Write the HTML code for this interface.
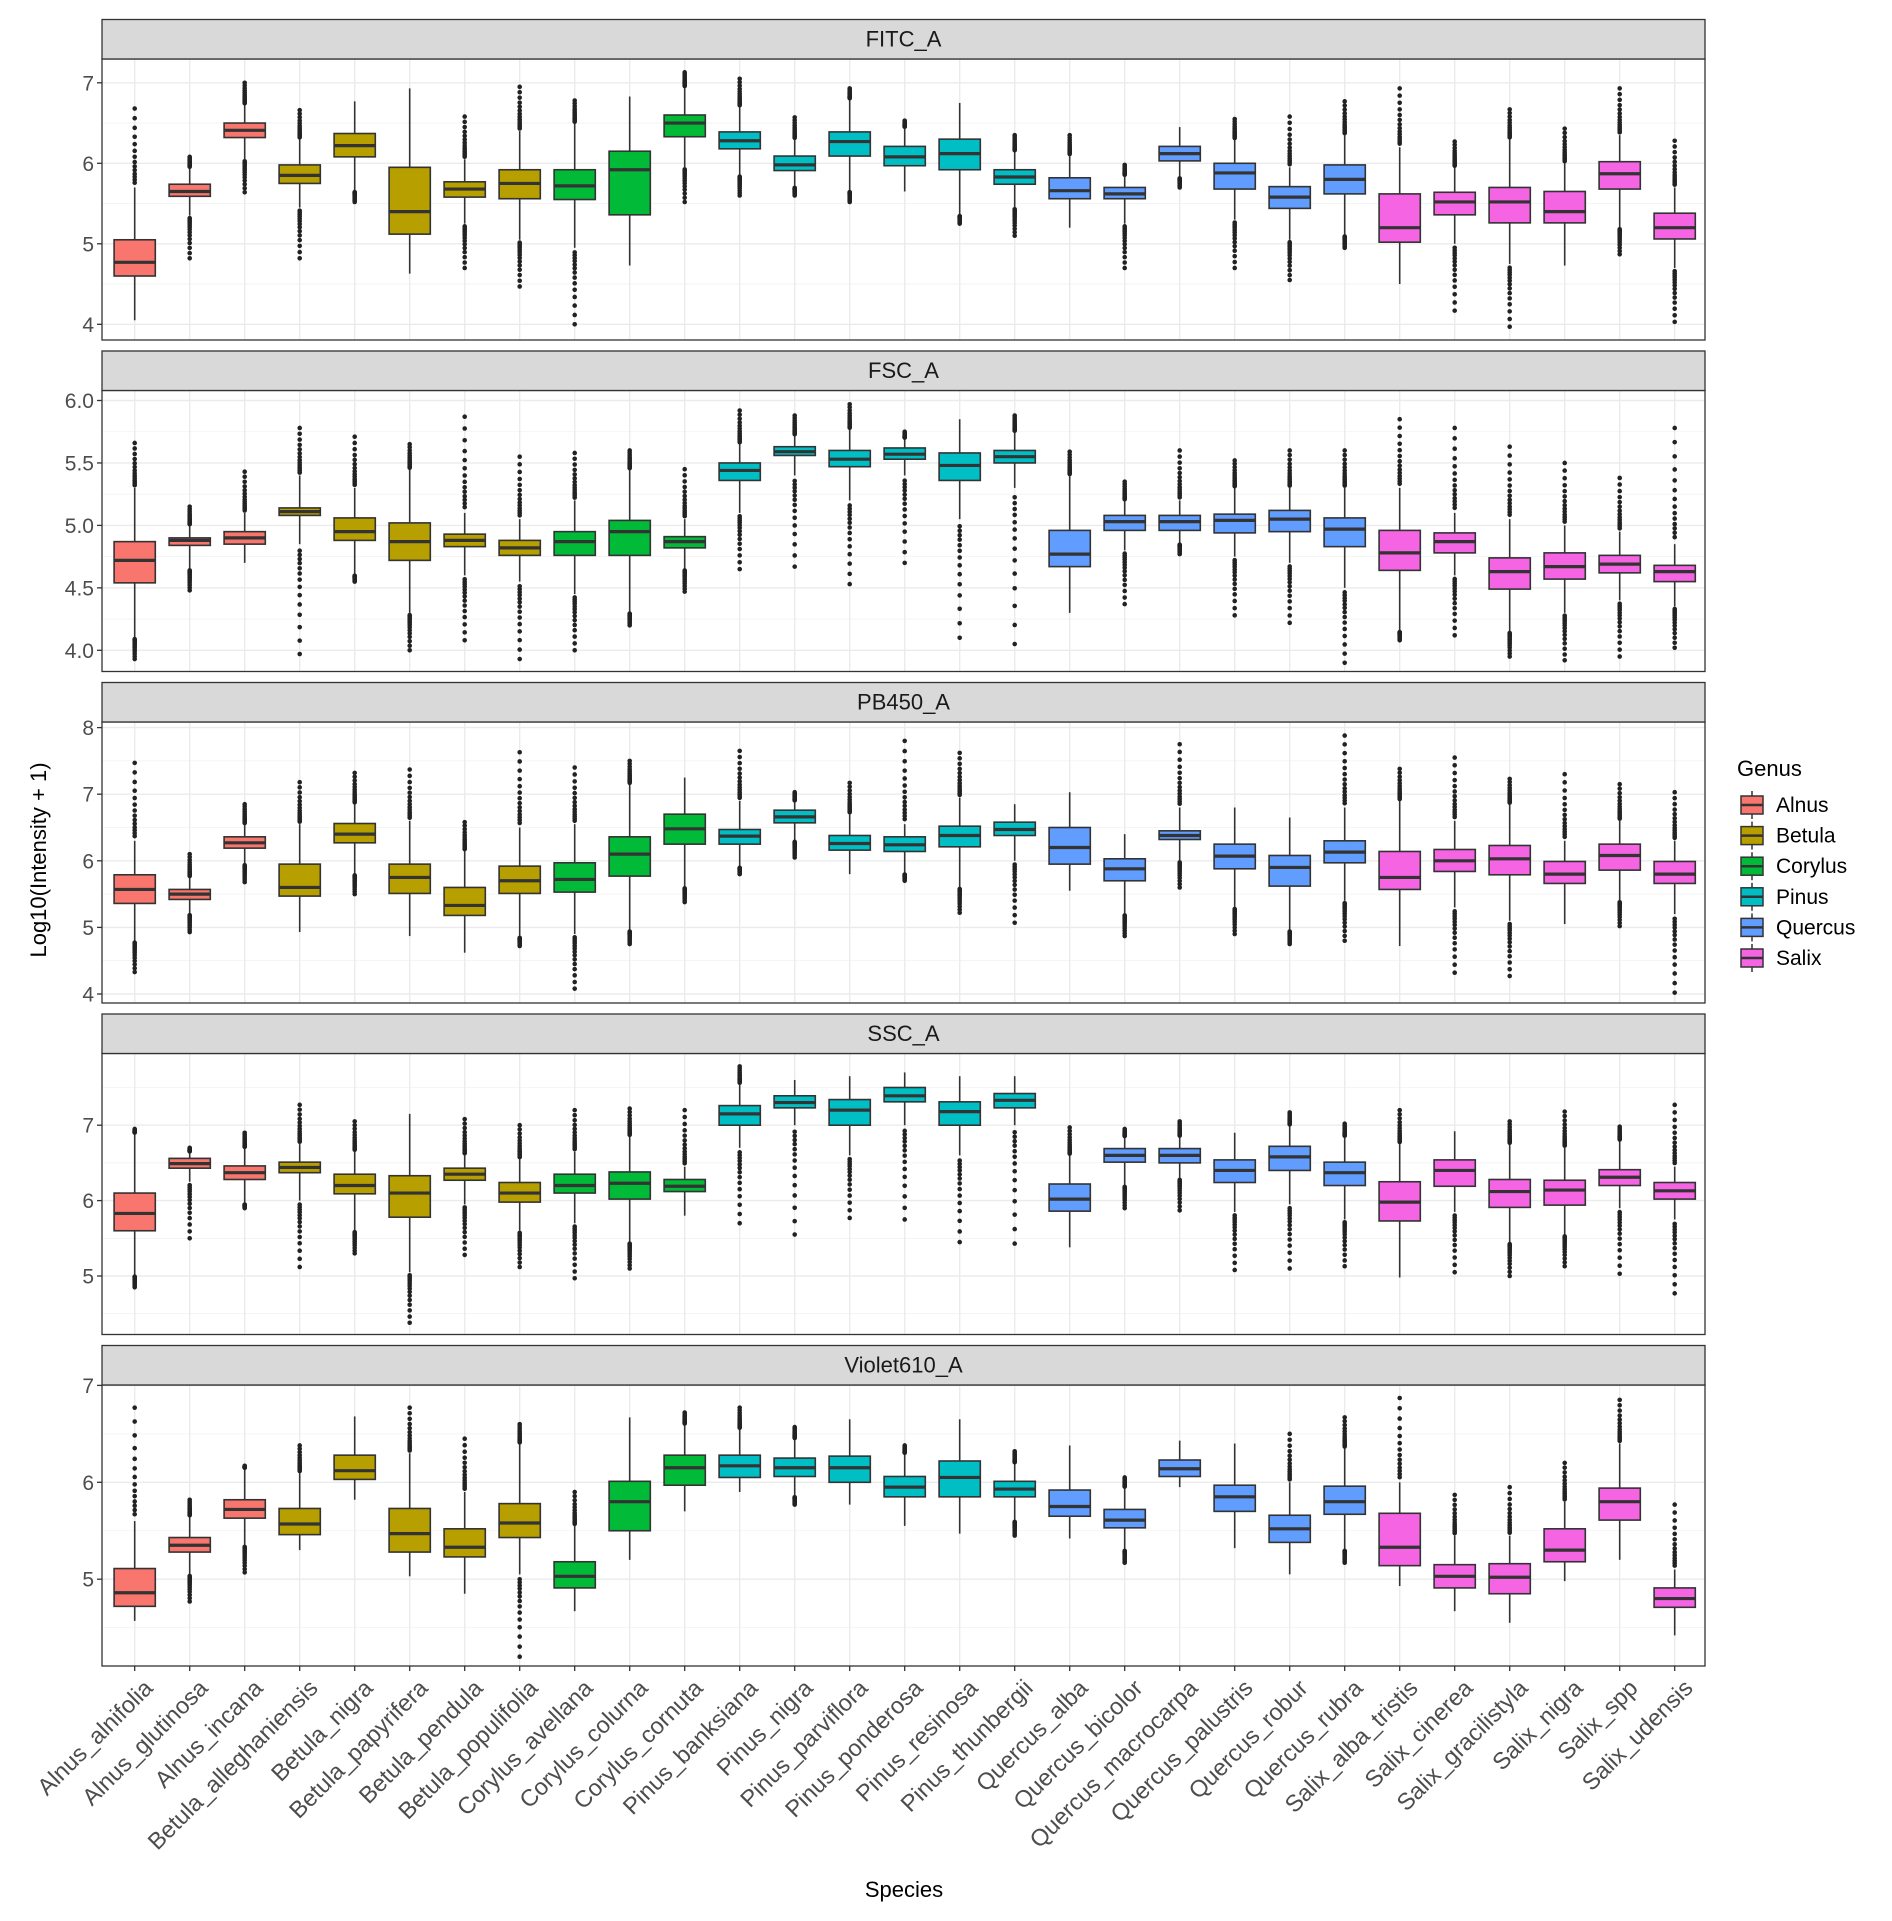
<!DOCTYPE html>
<html><head><meta charset="utf-8">
<style>
html,body{margin:0;padding:0;background:#fff;}
svg{display:block;font-family:"Liberation Sans",Arial,sans-serif;}
</style></head>
<body>
<svg id="chart" width="1892" height="1921" viewBox="0 0 1892 1921" xmlns="http://www.w3.org/2000/svg">
<rect x="0" y="0" width="1892" height="1921" fill="#fff"/>
<g id="panels"></g>
<g id="xlabels"></g>
<text x="904" y="1897" text-anchor="middle" font-size="22" fill="#000">Species</text>
<text transform="translate(46,860) rotate(-90)" text-anchor="middle" font-size="22" fill="#000">Log10(Intensity + 1)</text>
<g id="legend"></g>
</svg>
<script>
const species=["Alnus_alnifolia","Alnus_glutinosa","Alnus_incana","Betula_alleghaniensis","Betula_nigra","Betula_papyrifera","Betula_pendula","Betula_populifolia","Corylus_avellana","Corylus_colurna","Corylus_cornuta","Pinus_banksiana","Pinus_nigra","Pinus_parviflora","Pinus_ponderosa","Pinus_resinosa","Pinus_thunbergii","Quercus_alba","Quercus_bicolor","Quercus_macrocarpa","Quercus_palustris","Quercus_robur","Quercus_rubra","Salix_alba_tristis","Salix_cinerea","Salix_gracilistyla","Salix_nigra","Salix_spp","Salix_udensis"];
const genusOf=[0,0,0,1,1,1,1,1,2,2,2,3,3,3,3,3,3,4,4,4,4,4,4,5,5,5,5,5,5];
const genera=["Alnus","Betula","Corylus","Pinus","Quercus","Salix"];
const genusColors=["#F8766D","#B79F00","#00BA38","#00BFC4","#619CFF","#F564E3"];
const panelNames=["FITC_A","FSC_A","PB450_A","SSC_A","Violet610_A"];

const fitcOutLo=[null,4.82,5.64,4.82,5.52,null,4.7,4.47,4.0,null,5.52,5.6,5.6,5.52,null,5.25,5.1,null,4.7,5.7,4.7,4.55,4.95,null,4.17,3.97,null,4.87,4.03];
const fitcWhLo=[4.05,5.35,6.05,5.45,5.65,4.63,5.25,5.05,4.95,4.73,5.95,5.85,5.7,5.65,5.65,5.35,5.45,5.2,5.25,5.82,5.3,5.05,5.1,4.5,5.0,4.75,4.73,5.2,4.7];
const fitcQ1=[4.6,5.59,6.32,5.75,6.08,5.12,5.58,5.56,5.55,5.36,6.33,6.18,5.91,6.09,5.97,5.92,5.74,5.56,5.56,6.03,5.68,5.44,5.62,5.02,5.36,5.26,5.26,5.68,5.06];
const fitcMed=[4.77,5.65,6.41,5.85,6.22,5.4,5.68,5.75,5.72,5.92,6.5,6.28,5.98,6.27,6.08,6.12,5.83,5.66,5.62,6.12,5.88,5.58,5.8,5.2,5.52,5.52,5.4,5.87,5.2];
const fitcQ3=[5.05,5.74,6.5,5.98,6.37,5.95,5.77,5.92,5.92,6.15,6.6,6.39,6.09,6.39,6.21,6.3,5.92,5.82,5.7,6.21,6.0,5.71,5.98,5.62,5.64,5.7,5.65,6.02,5.38];
const fitcWhHi=[5.7,5.95,6.73,6.3,6.77,6.93,6.05,6.4,6.5,6.83,6.95,6.7,6.3,6.8,6.45,6.75,6.15,6.1,5.85,6.45,6.3,5.95,6.35,6.2,5.95,6.3,6.0,6.35,5.7];
const fitcOutHi=[6.68,6.08,7.0,6.66,null,null,6.58,6.95,6.78,null,7.13,7.05,6.57,6.93,6.53,null,6.35,6.35,5.98,null,6.55,6.58,6.77,6.93,6.27,6.67,6.43,6.93,6.28];

const fscOutLo=[3.93,4.48,null,3.97,4.55,4.0,4.08,3.93,4.0,4.2,4.47,4.65,4.67,4.53,4.7,4.1,4.05,null,4.37,4.77,4.28,4.22,3.9,4.08,4.12,3.95,3.92,3.95,4.02];
const fscWhLo=[4.1,4.65,4.7,4.85,4.6,4.3,4.6,4.55,4.45,4.3,4.65,5.1,5.4,5.2,5.4,5.05,5.3,4.3,4.8,4.85,4.75,4.7,4.5,4.15,4.6,4.15,4.3,4.4,4.35];
const fscQ1=[4.54,4.84,4.85,5.08,4.88,4.72,4.83,4.76,4.76,4.76,4.82,5.36,5.56,5.47,5.53,5.36,5.5,4.67,4.96,4.96,4.94,4.95,4.83,4.64,4.78,4.49,4.57,4.62,4.55];
const fscMed=[4.72,4.88,4.9,5.11,4.95,4.87,4.88,4.82,4.87,4.95,4.87,5.44,5.59,5.53,5.57,5.48,5.55,4.77,5.03,5.03,5.04,5.05,4.97,4.78,4.87,4.63,4.67,4.69,4.63];
const fscQ3=[4.87,4.9,4.95,5.14,5.06,5.02,4.93,4.88,4.95,5.04,4.91,5.5,5.63,5.6,5.62,5.58,5.6,4.96,5.08,5.08,5.09,5.12,5.06,4.96,4.94,4.74,4.78,4.76,4.68];
const fscWhHi=[5.3,5.0,5.1,5.4,5.3,5.45,5.1,5.05,5.2,5.45,5.05,5.65,5.72,5.77,5.7,5.85,5.75,5.4,5.2,5.2,5.3,5.3,5.3,5.3,5.1,5.05,5.0,4.95,4.85];
const fscOutHi=[5.66,5.15,5.43,5.78,5.71,5.65,5.87,5.55,5.58,5.6,5.45,5.92,5.88,5.97,5.75,null,5.88,5.59,5.35,5.6,5.52,5.6,5.6,5.85,5.78,5.63,5.5,5.38,5.78];

const pbOutLo=[4.33,4.93,5.68,null,5.5,null,null,4.72,4.08,4.75,5.38,5.8,6.05,null,5.7,5.22,5.07,null,4.87,5.6,4.9,4.75,4.8,null,4.32,4.27,null,5.02,4.02];
const pbWhLo=[4.8,5.2,5.95,4.93,5.8,4.87,4.62,4.85,4.9,4.95,5.6,5.9,6.3,5.8,5.8,5.6,6.0,5.55,5.2,6.0,5.3,4.95,5.4,4.72,5.3,5.1,5.05,5.4,5.2];
const pbQ1=[5.36,5.42,6.19,5.47,6.27,5.51,5.18,5.51,5.53,5.77,6.25,6.25,6.57,6.16,6.14,6.21,6.38,5.95,5.7,6.32,5.88,5.62,5.97,5.57,5.84,5.79,5.66,5.86,5.66];
const pbMed=[5.57,5.5,6.27,5.6,6.4,5.75,5.33,5.7,5.72,6.1,6.48,6.37,6.66,6.26,6.24,6.38,6.47,6.2,5.88,6.38,6.07,5.9,6.13,5.75,6.0,6.03,5.8,6.08,5.8];
const pbQ3=[5.79,5.57,6.36,5.95,6.56,5.95,5.6,5.92,5.97,6.36,6.7,6.47,6.76,6.38,6.36,6.52,6.58,6.5,6.03,6.45,6.25,6.08,6.3,6.14,6.17,6.23,5.99,6.25,5.99];
const pbWhHi=[6.3,5.75,6.55,6.55,6.85,6.6,6.15,6.5,6.55,7.15,7.25,6.9,6.9,6.7,6.55,6.95,6.85,7.03,6.4,6.8,6.8,6.65,6.8,6.9,6.6,6.85,6.3,6.6,6.3];
const pbOutHi=[7.47,6.1,6.85,7.18,7.32,7.37,6.58,7.63,7.4,7.5,null,7.65,7.03,7.17,7.8,7.62,null,null,null,7.75,null,null,7.88,7.38,7.55,7.23,7.3,7.15,7.03];

const sscOutLo=[4.85,5.5,5.9,5.12,5.3,4.38,5.28,5.12,4.97,5.1,null,5.7,5.55,5.77,5.75,5.45,5.43,null,5.9,5.87,5.08,5.1,5.13,null,5.05,5.0,5.13,5.03,4.77];
const sscWhLo=[5.0,6.25,5.95,6.0,5.6,5.05,5.95,5.6,5.7,5.45,5.8,6.7,7.0,6.6,7.0,6.6,7.0,5.38,6.2,6.3,5.85,5.95,5.75,4.98,5.85,5.45,5.55,5.9,5.75];
const sscQ1=[5.6,6.43,6.28,6.37,6.09,5.78,6.27,5.98,6.1,6.02,6.12,7.0,7.23,7.0,7.31,7.0,7.23,5.86,6.51,6.5,6.24,6.4,6.2,5.73,6.19,5.91,5.94,6.2,6.02];
const sscMed=[5.83,6.49,6.37,6.44,6.2,6.1,6.35,6.1,6.2,6.23,6.19,7.15,7.3,7.2,7.39,7.18,7.33,6.02,6.6,6.6,6.4,6.58,6.37,5.98,6.4,6.12,6.14,6.31,6.13];
const sscQ3=[6.1,6.56,6.46,6.51,6.35,6.33,6.43,6.24,6.35,6.38,6.28,7.26,7.39,7.34,7.5,7.31,7.42,6.22,6.69,6.69,6.54,6.72,6.51,6.25,6.54,6.28,6.27,6.41,6.24];
const sscWhHi=[6.9,6.65,6.7,6.75,6.65,7.15,6.6,6.55,6.65,6.85,6.45,7.55,7.6,7.65,7.7,7.65,7.65,6.6,6.85,6.85,6.9,7.0,6.85,6.75,6.92,6.75,6.7,6.8,6.45];
const sscOutHi=[6.95,6.7,6.9,7.27,7.05,null,7.08,7.0,7.2,7.22,7.2,7.78,null,null,null,null,null,6.97,6.95,7.05,null,7.17,7.02,7.2,null,7.05,7.18,6.98,7.27];

const vioOutLo=[null,4.77,5.07,null,null,null,null,4.2,null,null,null,null,5.77,null,null,null,5.45,null,5.17,null,null,null,5.17,null,null,null,null,null,null];
const vioWhLo=[4.57,5.05,5.35,5.3,5.82,5.03,4.85,5.05,4.67,5.2,5.7,5.9,5.85,5.77,5.55,5.47,5.6,5.42,5.3,5.95,5.32,5.05,5.3,4.93,4.67,4.55,4.98,5.2,4.42];
const vioQ1=[4.72,5.28,5.63,5.46,6.03,5.28,5.23,5.43,4.91,5.5,5.97,6.05,6.06,6.0,5.85,5.85,5.85,5.65,5.53,6.06,5.7,5.38,5.67,5.14,4.91,4.85,5.18,5.61,4.71];
const vioMed=[4.86,5.35,5.72,5.57,6.12,5.47,5.33,5.58,5.03,5.8,6.15,6.17,6.15,6.15,5.95,6.05,5.93,5.75,5.61,6.14,5.85,5.52,5.8,5.33,5.03,5.02,5.3,5.8,4.8];
const vioQ3=[5.11,5.43,5.82,5.73,6.28,5.73,5.52,5.78,5.18,6.01,6.28,6.28,6.25,6.27,6.06,6.22,6.01,5.92,5.72,6.23,5.97,5.66,5.96,5.68,5.15,5.16,5.52,5.94,4.91];
const vioWhHi=[5.6,5.65,6.15,6.1,6.68,6.3,5.9,6.4,5.55,6.67,6.6,6.55,6.45,6.65,6.3,6.65,6.2,6.38,5.95,6.43,6.4,6.0,6.35,6.0,5.45,5.45,5.8,6.4,5.1];
const vioOutHi=[6.77,5.82,6.17,6.38,null,6.77,6.45,6.6,5.9,null,6.72,6.77,6.57,null,6.38,null,6.32,null,6.05,null,null,6.5,6.67,6.87,5.87,5.95,6.2,6.85,5.77];

const fitcTicks=[4,5,6,7];
const fitcTickLabels=["4","5","6","7"];
const fscTicks=[4,4.5,5,5.5,6];
const fscTickLabels=["4.0","4.5","5.0","5.5","6.0"];
const pbTicks=[4,5,6,7,8];
const pbTickLabels=["4","5","6","7","8"];
const sscTicks=[5,6,7];
const sscTickLabels=["5","6","7"];
const vioTicks=[5,6,7];
const vioTickLabels=["5","6","7"];

const NS="http://www.w3.org/2000/svg";
function mk(tag,attrs,parent){const e=document.createElementNS(NS,tag);for(const k in attrs)e.setAttribute(k,attrs[k]);if(parent)parent.appendChild(e);return e;}

const L=102,R=1705,X0=134.7,DX=55,HW=20.6;
function xScale(i){return X0+i*DX;}

const panelData=[
 {ticks:fitcTicks,labels:fitcTickLabels,lo:fitcOutLo,wl:fitcWhLo,q1:fitcQ1,md:fitcMed,q3:fitcQ3,wh:fitcWhHi,hi:fitcOutHi,v0:4,y0:324.3,u:80.5},
 {ticks:fscTicks,labels:fscTickLabels,lo:fscOutLo,wl:fscWhLo,q1:fscQ1,md:fscMed,q3:fscQ3,wh:fscWhHi,hi:fscOutHi,v0:4,y0:650.3,u:124.9},
 {ticks:pbTicks,labels:pbTickLabels,lo:pbOutLo,wl:pbWhLo,q1:pbQ1,md:pbMed,q3:pbQ3,wh:pbWhHi,hi:pbOutHi,v0:4,y0:994,u:66.6},
 {ticks:sscTicks,labels:sscTickLabels,lo:sscOutLo,wl:sscWhLo,q1:sscQ1,md:sscMed,q3:sscQ3,wh:sscWhHi,hi:sscOutHi,v0:5,y0:1276,u:75.4},
 {ticks:vioTicks,labels:vioTickLabels,lo:vioOutLo,wl:vioWhLo,q1:vioQ1,md:vioMed,q3:vioQ3,wh:vioWhHi,hi:vioOutHi,v0:5,y0:1579.2,u:96.9}
];
const fracs=[0.0,0.04,0.08,0.12,0.17,0.22,0.28,0.35,0.43,0.52,0.62,0.74,0.87,1.0];

const panelsG=document.getElementById('panels');
panelData.forEach((p,k)=>{
  const stripTop=19.5+331.5*k, top=stripTop+39.5, bot=stripTop+320.5;
  const yS=v=>p.y0-(v-p.v0)*p.u;
  const g=mk('g',{},panelsG);
  
  
  const bg=mk('rect',{x:L,y:top,width:R-L,height:bot-top,fill:'#fff'},g);
  
  
  const step=p.ticks[1]-p.ticks[0];
  for(let v=p.ticks[0]-step*2+step/2; v<p.ticks[p.ticks.length-1]+step*2; v+=step){
    const y=yS(v); if(y<top||y>bot) continue;
    const gl=mk('line',{x1:L,x2:R,y1:y,y2:y,stroke:'#f2f2f2','stroke-width':0.8},g);
    
    
  }
  p.ticks.forEach((v,j)=>{
    const y=yS(v);
    const gl=mk('line',{x1:L,x2:R,y1:y,y2:y,stroke:'#ebebeb','stroke-width':1.4},g);
    
    
    const tk=mk('line',{x1:L-5,x2:L,y1:y,y2:y,stroke:'#333','stroke-width':1.3},g);
    
    
    const t=mk('text',{x:L-8,y:y+7.5,'text-anchor':'end','font-size':21,fill:'#4d4d4d'},g);
    t.textContent=p.labels[j];
    
    
  });
  species.forEach((s,i)=>{
    const x=xScale(i);
    const vg=mk('line',{x1:x,x2:x,y1:top,y2:bot,stroke:'#ebebeb','stroke-width':1.4},g);
    
    
  });
  species.forEach((s,i)=>{
    const x=xScale(i), col=genusColors[genusOf[i]];
    const bg2=mk('g',{},g);
    
    
    const w=mk('line',{x1:x,x2:x,y1:yS(p.wl[i]),y2:yS(p.wh[i]),stroke:'#333','stroke-width':1.6},bg2);
    
    
    const r=mk('rect',{x:x-HW,y:yS(p.q3[i]),width:2*HW,height:Math.max(1,yS(p.q1[i])-yS(p.q3[i])),fill:col,stroke:'#333','stroke-width':1.6},bg2);
    
    
    const m=mk('line',{x1:x-HW,x2:x+HW,y1:yS(p.md[i]),y2:yS(p.md[i]),stroke:'#333','stroke-width':3.2},bg2);
    
    
    [[p.wh[i],p.hi[i]],[p.wl[i],p.lo[i]]].forEach(([wv,ev])=>{
      if(ev===null) return;
      const y1=yS(wv), y2=yS(ev);
      fracs.forEach(f=>{
        const yy=y1+(y2-y1)*(0.06+0.94*f);
        const c=mk('circle',{cx:x,cy:yy,r:2.3,fill:'#222'},bg2);
        
        
      });
    });
  });
  const br=mk('rect',{x:L,y:top,width:R-L,height:bot-top,fill:'none',stroke:'#333','stroke-width':1.3},g);
  
  
  const st=mk('rect',{x:L,y:stripTop,width:R-L,height:39.5,fill:'#d9d9d9',stroke:'#333','stroke-width':1.3},g);
  
  
  const stt=mk('text',{x:(L+R)/2,y:stripTop+27,'text-anchor':'middle','font-size':22,fill:'#1a1a1a'},g);
  stt.textContent=panelNames[k];
  
  
  if(k===4){
    species.forEach((s,i)=>{
      const x=xScale(i);
      const tk=mk('line',{x1:x,x2:x,y1:bot,y2:bot+5,stroke:'#333','stroke-width':1.3},g);
      
      
    });
  }
});

const xl=document.getElementById('xlabels');
species.forEach((s,i)=>{
  const x=xScale(i);
  const t=mk('text',{transform:'translate('+(x+7)+',1677) rotate(-45)','text-anchor':'end','font-size':23.5,fill:'#4d4d4d',dy:'0.75em'},xl);
  t.textContent=s;
  
  
});

const lg=document.getElementById('legend');
const lt=mk('text',{x:1737,y:776,'font-size':22,fill:'#000'},lg);
lt.textContent='Genus';


genera.forEach((gname,j)=>{
  const cy=805+30.6*j;
  const eg=mk('g',{},lg);
  
  
  mk('line',{x1:1752,x2:1752,y1:cy-14,y2:cy+14,stroke:'#333','stroke-width':1.5},eg);
  mk('rect',{x:1741,y:cy-9,width:22,height:18,fill:genusColors[j],stroke:'#333','stroke-width':1.5},eg);
  mk('line',{x1:1741,x2:1763,y1:cy,y2:cy,stroke:'#333','stroke-width':2.5},eg);
  const t=mk('text',{x:1776,y:cy+7,'font-size':21,fill:'#000'},eg);
  t.textContent=gname;
  
  
});
</script>
</body></html>
